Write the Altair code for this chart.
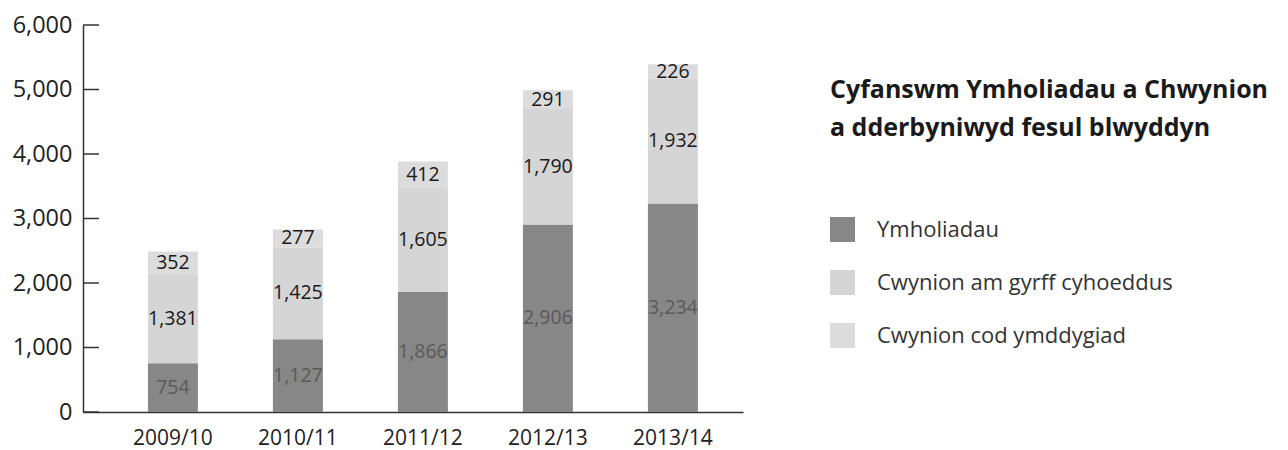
import altair as alt
import pandas as pd

years = ["2009/10", "2010/11", "2011/12", "2012/13", "2013/14"]
series = ["Ymholiadau", "Cwynion am gyrff cyhoeddus", "Cwynion cod ymddygiad"]
ymholiadau = [754, 1127, 1866, 2906, 3234]
cwynion_cyrff = [1381, 1425, 1605, 1790, 1932]
cwynion_cod = [352, 277, 412, 291, 226]
y_ticks = [0, 1000, 2000, 3000, 4000, 5000, 6000]
title_lines = ["Cyfanswm Ymholiadau a Chwynion", "a dderbyniwyd fesul blwyddyn"]

rows = []
for s_i, (name, vals) in enumerate(zip(series, [ymholiadau, cwynion_cyrff, cwynion_cod])):
    for y, v in zip(years, vals):
        rows.append({"year": y, "series": name, "value": v, "ord": s_i})
df = pd.DataFrame(rows)
ticks_df = pd.DataFrame({"t": y_ticks})

FONT = "Open Sans"
colors = ["#878787", "#d5d5d5", "#dcdcdc"]

xscale = alt.Scale(domain=years, paddingInner=0.6, paddingOuter=0.44, align=0.59)
yscale = alt.Scale(domain=[0, 6000], nice=False)

xaxis = alt.Axis(title=None, labelAngle=0, labelFontSize=21, labelPadding=15,
                 ticks=False, domainColor="#333", labelColor="#222", labelFont=FONT)
yaxis = alt.Axis(title=None, values=y_ticks, labelExpr="format(datum.value, ',')",
                 labelFontSize=23.5, labelPadding=11, ticks=False, grid=False,
                 domainColor="#333", labelColor="#222", labelFont=FONT)

base = alt.Chart(df).transform_stack(
    stack="value", groupby=["year"], sort=[alt.SortField("ord")], as_=["y0", "y1"]
).transform_calculate(mid="(datum.y0 + datum.y1) / 2")

bars = base.mark_bar().encode(
    x=alt.X("year:N", scale=xscale, axis=xaxis),
    y=alt.Y("y0:Q", scale=yscale, axis=yaxis),
    y2="y1:Q",
    color=alt.Color("series:N", scale=alt.Scale(domain=series, range=colors),
                    legend=alt.Legend(
                        title=title_lines, orient="none", legendX=747, legendY=53,
                        titleFont=FONT, titleFontSize=25, titleFontWeight="bold",
                        titleColor="#1a1a1a", titleLineHeight=38, titlePadding=76,
                        titleLimit=0, labelLimit=0,
                        labelFont=FONT, labelFontSize=22, labelColor="#333",
                        symbolType="square", symbolSize=625, symbolStrokeWidth=0,
                        symbolOpacity=1, rowPadding=28, labelOffset=22)),
)

labels = base.mark_text(font=FONT, fontSize=19.5, baseline="middle").encode(
    x=alt.X("year:N", scale=xscale, axis=xaxis),
    y=alt.Y("mid:Q", scale=yscale, axis=yaxis),
    text=alt.Text("value:Q", format=","),
    color=alt.condition(alt.datum.series == "Ymholiadau", alt.value("#5a5a5a"), alt.value("#1a1a1a")),
)

tickmarks = alt.Chart(ticks_df).mark_rule(color="#333", strokeWidth=1.5).encode(
    y=alt.Y("t:Q", scale=yscale, axis=yaxis),
    x=alt.value(0),
    x2=alt.value(16),
)

chart = alt.layer(bars, labels, tickmarks).properties(
    width=660, height=387,
    autosize=alt.AutoSizeParams(type="none"),
    padding={"left": 75, "top": 17, "right": 537, "bottom": 37},
).configure_view(stroke=None).configure_axis(domainWidth=1.5)

chart.save("out.html", embed_options={"renderer": "svg", "actions": False})
